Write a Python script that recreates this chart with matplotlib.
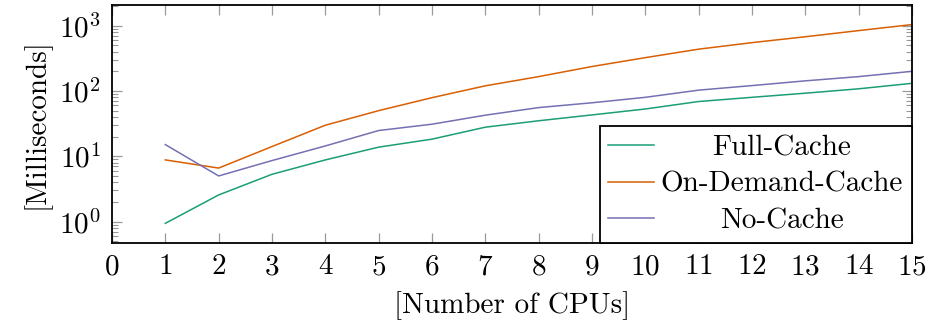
import matplotlib
matplotlib.use("Agg")
import matplotlib.pyplot as plt
from matplotlib.ticker import LogLocator, FixedLocator

plt.rcParams['font.family'] = 'serif'
plt.rcParams['font.serif'] = ['cmr10', 'DejaVu Serif']
plt.rcParams['mathtext.fontset'] = 'cm'
plt.rcParams['axes.formatter.use_mathtext'] = True
plt.rcParams['axes.unicode_minus'] = False

# values (ms, log scale)
cpus = [1, 2, 3, 4, 5, 6, 7, 8, 9, 10, 11, 12, 13, 14, 15]
full_cache = [0.94, 2.56, 5.3, 8.8, 13.8, 18.3, 27.9, 35, 43, 53, 69, 80, 92.5, 108, 131]
on_demand = [8.8, 6.6, 14.1, 29.9, 50, 79, 120, 166, 237, 324, 437, 550, 677, 841, 1040]
no_cache = [15.1, 5.0, 8.6, 14.4, 24.8, 31, 42.6, 55.7, 66, 80, 103, 121, 143, 166, 200]

labels = ['Full-Cache', 'On-Demand-Cache', 'No-Cache']
colors = ['#1b9e77', '#d95f02', '#7570b3']
xticks = list(range(0, 16))

FS = 21

fig = plt.figure(figsize=(9.28, 3.24), dpi=100)
ax = fig.add_axes([0.1207, 0.25, 0.862, 0.7346])

for ys, lab, c in zip([full_cache, on_demand, no_cache], labels, colors):
    ax.plot(cpus, ys, color=c, lw=1.1, label=lab)

ax.set_yscale('log')
ax.set_xlim(0, 15)
ax.set_ylim(0.47, 2075)
ax.xaxis.set_major_locator(FixedLocator(xticks))
ax.yaxis.set_major_locator(LogLocator(base=10, numticks=10))
ax.yaxis.set_minor_locator(LogLocator(base=10, subs=range(2, 10), numticks=10))
ax.xaxis.set_minor_locator(FixedLocator([]))

ax.tick_params(axis='both', which='both', direction='in', color='#9a9a9a',
               top=True, right=True, labelsize=FS, pad=8)
ax.tick_params(axis='both', which='major', length=7, width=0.9)
ax.tick_params(axis='y', which='minor', length=4.5, width=0.8)
for s in ax.spines.values():
    s.set_linewidth(1.3)

ax.set_xlabel('[Number of CPUs]', fontsize=FS, labelpad=8)
ax.set_ylabel('[Milliseconds]', fontsize=FS, labelpad=6)

leg = ax.legend(loc='lower right', fontsize=FS, frameon=True, fancybox=False,
                edgecolor='black', framealpha=1, borderaxespad=0,
                handlelength=1.55, handletextpad=0.25, labelspacing=0.34,
                borderpad=0.3)
leg.get_frame().set_linewidth(1.3)

# center the legend entries the way pgfplots does
fig.canvas.draw()
texts = leg.get_texts()
widths = [t.get_window_extent().width for t in texts]
wmax = max(widths)
for t, w in zip(texts, widths):
    t.set_x((wmax - w) / 2)

fig.savefig('out.png', dpi=100)
